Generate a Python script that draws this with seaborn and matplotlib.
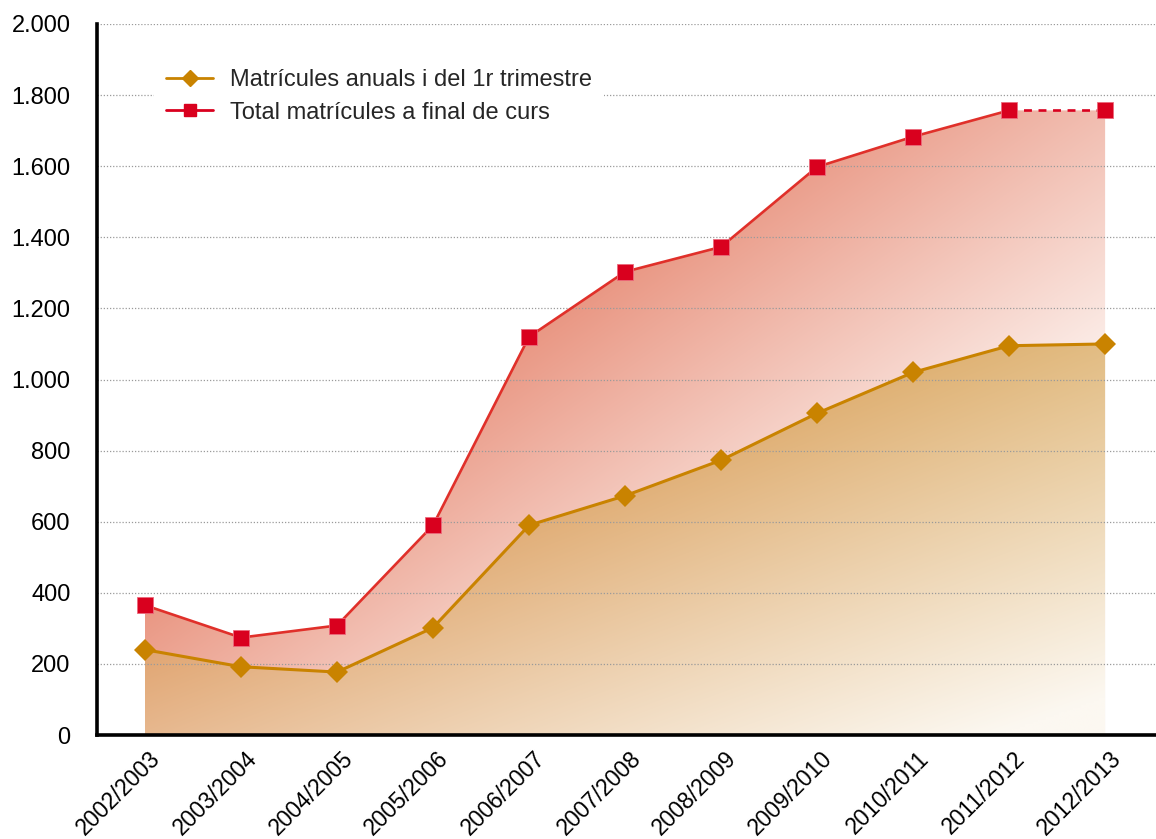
import numpy as np
import pandas as pd
import matplotlib
matplotlib.use("Agg")
import matplotlib.pyplot as plt
import seaborn as sns
from matplotlib.colors import to_rgb
from matplotlib.ticker import FuncFormatter
from matplotlib.transforms import ScaledTranslation


COURSES = ["2002/2003", "2003/2004", "2004/2005", "2005/2006", "2006/2007",
           "2007/2008", "2008/2009", "2009/2010", "2010/2011", "2011/2012",
           "2012/2013"]
ANUALS = [240, 192, 177, 302, 590, 673, 773, 905, 1020, 1095, 1100]
TOTAL = [365, 274, 308, 590, 1120, 1303, 1373, 1598, 1683, 1757, 1757]

LABEL_ANUALS = "Matrícules anuals i del 1r trimestre"
LABEL_TOTAL = "Total matrícules a final de curs"

ORANGE = "#C98300"
RED_LINE = "#E0302A"
RED_MARK = "#D9001E"

XMIN, XMAX = -0.5, 10.53
YMIN, YMAX = 0, 2000


def gradient_fill(ax, x, y, left, right, light, a, b, c):
    # gradient image clipped by the area under the line
    poly = ax.fill_between(x, y, 0, facecolor="none", edgecolor="none")
    u, v = np.meshgrid(np.linspace(0, 1, 400), np.linspace(0, 1, 300))
    t = np.clip(a * u + b * v - c, 0, 1)[..., None]
    uu = u[..., None]
    base = (1 - uu) * np.array(to_rgb(left)) + uu * np.array(to_rgb(right))
    rgb = (1 - t) * base + t * np.array(to_rgb(light))
    img = ax.imshow(rgb, aspect="auto", extent=[XMIN, XMAX, YMIN, YMAX],
                    origin="upper", interpolation="bilinear", zorder=1)
    img.set_clip_path(poly.get_paths()[0], transform=ax.transData)


def thousands(v, pos):
    return f"{int(v):,}".replace(",", ".")


sns.set_style("white")
plt.rcParams["font.family"] = ["Liberation Sans", "DejaVu Sans"]

df = pd.DataFrame({"idx": np.arange(len(COURSES)), "anuals": ANUALS, "total": TOTAL})

fig = plt.figure(figsize=(11.56, 8.39), dpi=100)
ax = fig.add_axes([97 / 1156, 104 / 839, 1059 / 1156, 711 / 839])

gradient_fill(ax, df["idx"], df["total"], "#E6866F", "#E8927E", "#FDF3EF",
              1.46, 1.46, 1.12)
gradient_fill(ax, df["idx"], df["anuals"], "#E0A26E", "#DFB676", "#FCF8F1",
              0.94, 1.8, 1.6)

sns.lineplot(data=df.iloc[:10], x="idx", y="total", ax=ax, color=RED_LINE,
             linewidth=1.9, zorder=3)
sns.lineplot(data=df.iloc[9:], x="idx", y="total", ax=ax, color=RED_MARK,
             linewidth=1.9, linestyle=(0, (3, 2.5)), zorder=3)
ax.plot(df["idx"], df["total"], linestyle="none", marker="s", markersize=11,
        color=RED_MARK, markeredgecolor="#EC6A7C", markeredgewidth=0.6, zorder=4)

sns.lineplot(data=df, x="idx", y="anuals", ax=ax, color=ORANGE,
             linewidth=2.2, zorder=3)
ax.plot(df["idx"], df["anuals"], linestyle="none", marker="D", markersize=11,
        color=ORANGE, markeredgewidth=0, zorder=4)

ax.set_xlim(XMIN, XMAX)
ax.set_ylim(YMIN, YMAX)
ax.set_yticks(np.arange(0, 2001, 200))
ax.yaxis.set_major_formatter(FuncFormatter(thousands))
ax.set_xticks(df["idx"])
ax.set_xticklabels(COURSES, rotation=45, ha="right", va="top",
                   rotation_mode="anchor")
ax.set_xlabel("")
ax.set_ylabel("")
ax.tick_params(axis="both", labelsize=17, colors="black", direction="out",
               length=5, width=2)
ax.tick_params(axis="x", labelsize=16.5, pad=3)
ax.tick_params(axis="y", pad=14)
shift = ScaledTranslation(0.04, -0.01, fig.dpi_scale_trans)
for lbl in ax.get_xticklabels():
    lbl.set_transform(lbl.get_transform() + shift)

ax.set_axisbelow("line")
ax.yaxis.grid(True, linestyle=(0, (1, 1.5)), color="#9A9A9A", linewidth=0.9)
ax.xaxis.grid(False)

for side in ["top", "right"]:
    ax.spines[side].set_visible(False)
for side in ["left", "bottom"]:
    ax.spines[side].set_linewidth(2.6)
    ax.spines[side].set_color("black")

handles = [
    plt.Line2D([], [], color=ORANGE, linewidth=2, marker="D", markersize=8),
    plt.Line2D([], [], color=RED_MARK, linewidth=2, marker="s", markersize=9),
]
leg = ax.legend(handles, [LABEL_ANUALS, LABEL_TOTAL], loc="upper left",
                bbox_to_anchor=(0.043, 0.97), frameon=True, fontsize=17,
                handlelength=2.0, handletextpad=0.7, labelspacing=0.45,
                borderpad=0.5, fancybox=False)
leg.get_frame().set_facecolor("white")
leg.get_frame().set_edgecolor("none")
leg.get_frame().set_alpha(1)
leg.set_zorder(6)

fig.savefig("out.png", dpi=100)
